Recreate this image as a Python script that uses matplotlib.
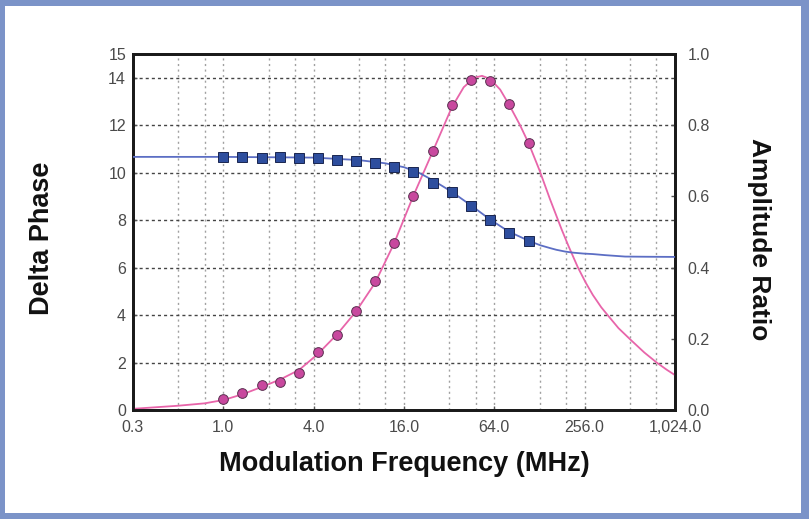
import matplotlib
matplotlib.use("Agg")
import matplotlib.pyplot as plt
from matplotlib.patches import Rectangle
from matplotlib.ticker import FixedLocator, NullLocator

plt.rcParams['font.family'] = ['Liberation Sans', 'DejaVu Sans']

# measured frequencies (MHz)
freq = [1.0, 1.34, 1.8, 2.39, 3.21, 4.25, 5.75, 7.66, 10.25, 13.7,
        18.4, 25.1, 33.3, 44.7, 59.9, 80.5, 108.9]
# delta phase (left axis)
phase = [0.45, 0.70, 1.04, 1.17, 1.57, 2.46, 3.16, 4.17, 5.45, 7.05,
         9.02, 10.91, 12.85, 13.91, 13.86, 12.91, 11.25]
# amplitude ratio (right axis)
ampl = [0.710, 0.711, 0.709, 0.711, 0.708, 0.708, 0.702, 0.699, 0.695, 0.683,
        0.668, 0.638, 0.612, 0.574, 0.533, 0.498, 0.475]

# fitted curves
phase_fit_x = [0.25, 0.5, 0.75, 1.0, 1.34, 1.8, 2.4, 3.2, 4.25, 5.75, 7.66,
               10.25, 13.7, 18.4, 25.1, 33.3, 40, 47, 53, 60, 70, 80.5, 95,
               109, 128, 150, 180, 200, 231, 260, 290, 330, 364, 430, 520,
               640, 773, 900, 1024]
phase_fit_y = [0.05, 0.18, 0.28, 0.42, 0.66, 0.97, 1.29, 1.69, 2.35, 3.2, 4.15,
               5.35, 7.0, 9.0, 10.95, 12.75, 13.6, 14.0, 14.08, 13.95, 13.5, 12.85, 12.0,
               11.2, 10.1, 8.9, 7.6, 6.9, 6.0, 5.37, 4.85, 4.33, 4.0, 3.45, 2.95,
               2.42, 2.0, 1.7, 1.47]
ampl_fit_x = [0.25, 1, 4, 8, 12, 16, 20, 25, 33, 45, 60, 80, 109, 129, 150,
              166, 190, 214, 250, 290, 350, 476, 650, 1024]
ampl_fit_y = [0.711, 0.711, 0.709, 0.702, 0.693, 0.682, 0.667, 0.645, 0.614,
              0.574, 0.535, 0.501, 0.475, 0.463, 0.455, 0.450, 0.445, 0.442,
              0.4395, 0.438, 0.435, 0.431, 0.4305, 0.43]

x_ticks = [0.25, 1, 4, 16, 64, 256, 1024]
x_labels = ['0.3', '1.0', '4.0', '16.0', '64.0', '256.0', '1,024.0']
left_ticks = [0, 2, 4, 6, 8, 10, 12, 14, 15]
right_ticks = [0.0, 0.2, 0.4, 0.6, 0.8, 1.0]

fig = plt.figure(figsize=(8.09, 5.19), dpi=100, facecolor='#7b93c8')
fig.patches.append(Rectangle((5 / 809, 6 / 519), 796 / 809, 507 / 519,
                             transform=fig.transFigure, facecolor='white',
                             edgecolor='none', zorder=-10))

ax = fig.add_axes([133 / 809, 1 - 410 / 519, 542 / 809, 356 / 519])
ax.set_xscale('log', base=2)
ax.set_xlim(0.25, 1024)
ax.set_ylim(0, 15)

# grid: dotted vertical lines at 1x,2x,3x of each major, dashed horizontals
vgrid = [m * k for m in x_ticks[:-1] for k in (1, 2, 3)][1:]
for v in vgrid:
    ax.axvline(v, color='#a0a0a0', lw=1, ls=(0, (1.5, 2.5)), zorder=1)
for h in range(2, 15, 2):
    ax.axhline(h, color='#444444', lw=1, ls=(0, (2.2, 2.2)), zorder=1)

ax.plot(phase_fit_x, phase_fit_y, color='#e865aa', lw=1.3, zorder=3)
ax.plot(freq, phase, 'o', ms=7, mfc='#c8489e', mec='#5a3050', mew=0.7, zorder=4)

ax.xaxis.set_major_locator(FixedLocator(x_ticks))
ax.xaxis.set_minor_locator(NullLocator())
ax.set_xticklabels(x_labels)
ax.set_yticks(left_ticks)
ax.tick_params(axis='both', direction='in', length=3, width=1, color='#555555',
               labelsize=11.5, labelcolor='#4a4a4a')
ax.tick_params(axis='x', pad=7)
ax.tick_params(axis='y', pad=5)
for s in ax.spines.values():
    s.set_linewidth(2)
    s.set_color('#1a1a1a')

ax2 = ax.twinx()
ax2.set_ylim(0, 1)
ax2.plot(ampl_fit_x, ampl_fit_y, color='#5c6ec4', lw=1.3, zorder=3)
ax2.plot(freq, ampl, 's', ms=6.5, mfc='#2e4e9e', mec='#1a2550', mew=0.7, zorder=4)
ax2.set_yticks(right_ticks)
ax2.set_yticklabels(['%.1f' % t for t in right_ticks])
ax2.tick_params(axis='y', direction='in', length=3, width=1, color='#555555',
                labelsize=11.5, labelcolor='#4a4a4a', pad=9)
for s in ax2.spines.values():
    s.set_linewidth(2)
    s.set_color('#1a1a1a')

ax.set_xlabel('Modulation Frequency (MHz)', fontsize=19.5, fontweight='bold',
              labelpad=12, color='#111111')
fig.text(42 / 809, 1 - 238 / 519, 'Delta Phase', rotation=90, fontsize=19.5,
         fontweight='bold', ha='center', va='center', color='#111111')
fig.text(759 / 809, 1 - 239 / 519, 'Amplitude Ratio', rotation=-90, fontsize=19,
         fontweight='bold', ha='center', va='center', color='#111111')

fig.savefig('out.png', dpi=100, facecolor=fig.get_facecolor())
